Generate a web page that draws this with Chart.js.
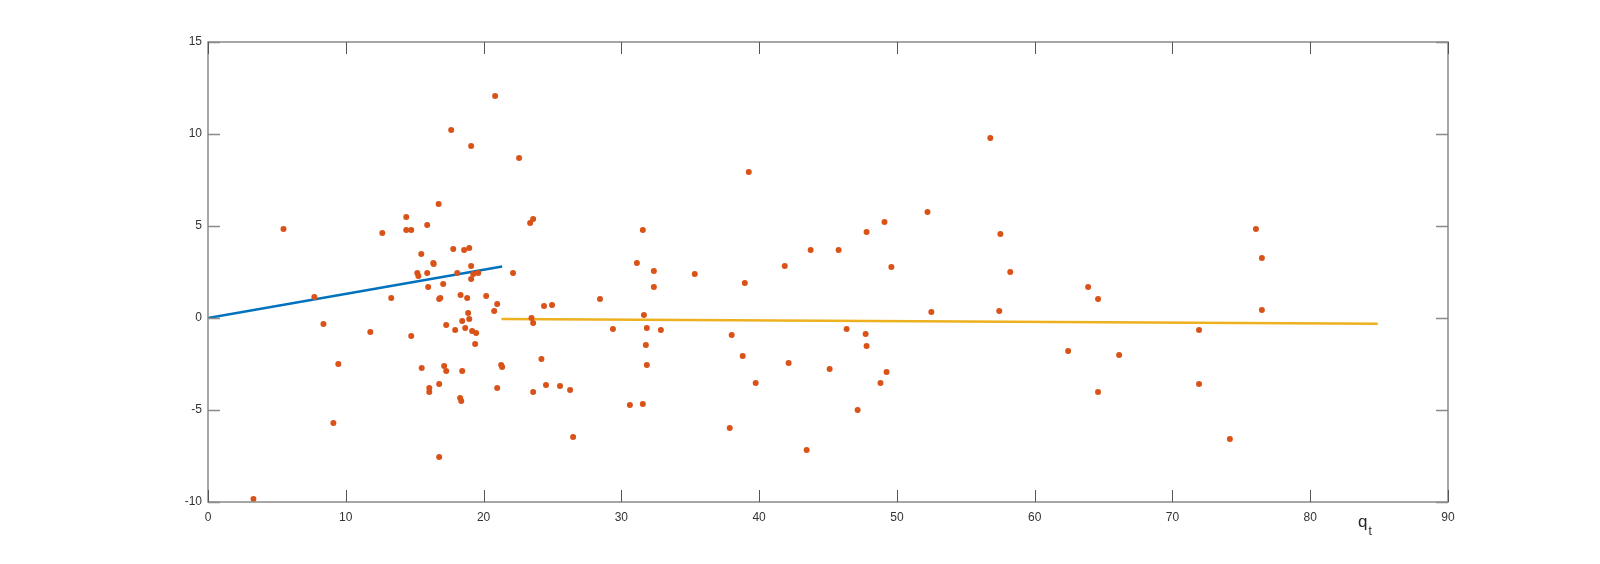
<!DOCTYPE html>
<html>
<head>
<meta charset="utf-8">
<script src="https://cdn.jsdelivr.net/npm/chart.js@4.4.1/dist/chart.umd.min.js"></script>
<style>
  html, body { margin: 0; padding: 0; background: #ffffff; }
  #wrap { width: 1600px; height: 564px; position: relative; }
</style>
</head>
<body>
<div id="wrap"><canvas id="c" width="1600" height="564"></canvas></div>
<script>
// ---- data ----
const scatterX = [
  3.3, 5.48, 7.72, 8.38, 9.1, 9.46, 11.78, 12.65, 13.3, 14.39,
  14.39, 14.75, 14.75, 15.19, 15.27, 15.48, 15.51, 15.91, 15.91, 15.98,
  16.06, 16.06, 16.35, 16.38, 16.74, 16.78, 16.86, 16.78, 16.78, 17.07,
  17.14, 17.29, 17.29, 17.65, 17.80, 17.94, 18.09, 18.33, 18.30, 18.38,
  18.45, 18.45, 18.59, 18.67, 18.81, 18.88, 18.96, 18.96, 19.1, 19.1,
  19.1, 19.17, 19.25, 19.39, 19.46, 19.61, 20.19, 20.77, 20.84, 20.99,
  20.99, 21.28, 21.35, 22.14, 22.58, 23.38, 23.6, 23.48, 23.6, 23.6,
  24.2, 24.39, 24.53, 24.97, 25.55, 26.28, 26.5, 28.45, 29.39, 30.62,
  31.13, 31.56, 31.56, 31.64, 31.85, 31.78, 31.85, 32.36, 32.36, 32.87,
  35.33, 37.87, 38.01, 38.81, 38.96, 39.25, 39.75, 41.86, 42.14, 43.45,
  43.74, 45.12, 45.77, 46.35, 47.15, 47.73, 47.80, 47.80, 48.81, 49.1,
  49.25, 49.6, 52.22, 52.5, 56.78, 57.43, 57.51, 58.23, 62.43, 63.88,
  64.6, 64.6, 66.13, 71.93, 71.93, 74.17, 76.06, 76.49, 76.49
];
const scatterY = [
  -9.84, 4.84, 1.14, -0.33, -5.71, -2.5, -0.76, 4.62, 1.09, 5.49,
  4.78, 4.78, -0.98, 2.45, 2.28, 3.48, -2.72, 5.05, 2.45, 1.68,
  -3.80, -4.02, 2.99, 2.93, 6.20, 1.03, 1.09, -3.59, -7.55, 1.85,
  -2.61, -0.38, -2.88, 10.22, 3.75, -0.65, 2.45, 1.25, -4.35, -4.51,
  -0.16, -2.88, 3.70, -0.54, 1.09, 0.27, 3.80, -0.05, 9.35, 2.83,
  2.12, -0.71, 2.39, -1.41, -0.82, 2.45, 1.20, 0.38, 12.07, 0.76,
  -3.80, -2.55, -2.66, 2.45, 8.70, 5.16, 5.38, 0.0, -0.27, -4.02,
  -2.23, 0.65, -3.64, 0.71, -3.70, -3.91, -6.47, 1.03, -0.60, -4.73,
  2.99, 4.78, -4.67, 0.16, -0.54, -1.47, -2.55, 2.55, 1.68, -0.65,
  2.39, -5.98, -0.92, -2.07, 1.90, 7.93, -3.53, 2.83, -2.45, -7.17,
  3.70, -2.77, 3.70, -0.60, -5.0, -0.87, -1.52, 4.67, -3.53, 5.22,
  -2.93, 2.77, 5.76, 0.33, 9.78, 0.38, 4.57, 2.5, -1.79, 1.68,
  1.03, -4.02, -2.01, -0.65, -3.59, -6.58, 4.84, 3.26, 0.43
];
const fitLowX = [0, 21.35];
const fitLowY = [0, 2.80];
const fitHighX = [21.3, 84.9];
const fitHighY = [-0.05, -0.31];
const xTicks = [0, 10, 20, 30, 40, 50, 60, 70, 80, 90];
const yTicks = [-10, -5, 0, 5, 10, 15];
const xLabelMain = 'q';
const xLabelSub = 't';

const toPts = (xs, ys) => xs.map((x, i) => ({ x: x, y: ys[i] }));

const boxPlugin = {
  id: 'matlabBox',
  afterDraw(chart) {
    const ctx = chart.ctx;
    const a = chart.chartArea;
    const xs = chart.scales.x, ys = chart.scales.y;
    const tl = 12;
    ctx.save();
    // box
    ctx.strokeStyle = '#8a8a8a';
    ctx.lineWidth = 1.5;
    ctx.strokeRect(a.left, a.top, a.right - a.left, a.bottom - a.top);
    // y ticks (left and right, inward)
    ctx.beginPath();
    yTicks.forEach(v => {
      const py = Math.round(ys.getPixelForValue(v)) + 0.5;
      ctx.moveTo(a.left, py); ctx.lineTo(a.left + tl, py);
      ctx.moveTo(a.right, py); ctx.lineTo(a.right - tl, py);
    });
    ctx.stroke();
    // x ticks (bottom and top, inward)
    ctx.strokeStyle = '#555555';
    ctx.lineWidth = 1;
    ctx.beginPath();
    xTicks.forEach(v => {
      const px = Math.round(xs.getPixelForValue(v)) + 0.5;
      ctx.moveTo(px, a.bottom); ctx.lineTo(px, a.bottom - tl);
      ctx.moveTo(px, a.top); ctx.lineTo(px, a.top + tl);
    });
    ctx.stroke();
    // axis label q_t
    ctx.fillStyle = '#262626';
    ctx.textBaseline = 'alphabetic';
    ctx.textAlign = 'left';
    ctx.font = '17px "Liberation Sans", Arial, sans-serif';
    const lx = a.right - 90, ly = a.bottom + 25;
    ctx.fillText(xLabelMain, lx, ly);
    const w = ctx.measureText(xLabelMain).width;
    ctx.font = '12px "Liberation Sans", Arial, sans-serif';
    ctx.fillText(xLabelSub, lx + w + 1, ly + 8);
    ctx.restore();
  }
};

const tickFont = { family: '"Liberation Sans", Arial, sans-serif', size: 12 };

new Chart(document.getElementById('c'), {
  type: 'scatter',
  data: {
    datasets: [
      {
        label: 'low regime fit',
        type: 'line',
        data: toPts(fitLowX, fitLowY),
        borderColor: '#0072BD',
        borderWidth: 2.5,
        pointRadius: 0,
        fill: false,
        order: 1
      },
      {
        label: 'high regime fit',
        type: 'line',
        data: toPts(fitHighX, fitHighY),
        borderColor: '#EDB120',
        borderWidth: 2.5,
        pointRadius: 0,
        fill: false,
        order: 2
      },
      {
        label: 'residuals',
        data: toPts(scatterX, scatterY),
        backgroundColor: '#D95319',
        borderColor: '#D95319',
        borderWidth: 0,
        pointRadius: 3,
        order: 0
      }
    ]
  },
  options: {
    responsive: false,
    animation: false,
    layout: { padding: { left: 0, top: 42, right: 152, bottom: 0 } },
    plugins: { legend: { display: false }, tooltip: { enabled: false } },
    scales: {
      x: {
        type: 'linear',
        min: 0, max: 90,
        afterFit(s) { s.height = 62; },
        afterBuildTicks(s) { s.ticks = xTicks.map(v => ({ value: v })); },
        grid: { display: false, drawTicks: false },
        border: { display: false },
        ticks: { font: tickFont, color: '#333333', padding: 8, maxRotation: 0 }
      },
      y: {
        type: 'linear',
        min: -10, max: 15,
        afterFit(s) { s.width = 208; },
        afterBuildTicks(s) { s.ticks = yTicks.map(v => ({ value: v })); },
        grid: { display: false, drawTicks: false },
        border: { display: false },
        ticks: { font: tickFont, color: '#333333', padding: 6 }
      }
    }
  },
  plugins: [boxPlugin]
});
</script>
</body>
</html>
